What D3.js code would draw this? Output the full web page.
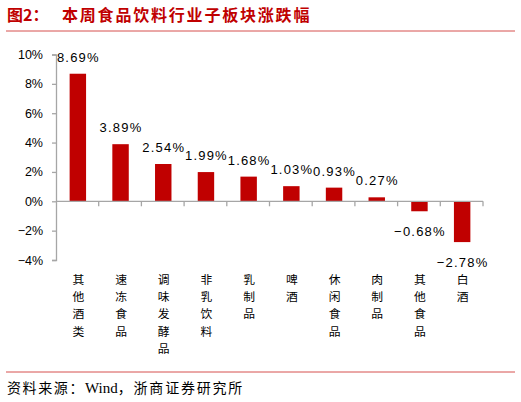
<!DOCTYPE html>
<html>
<head>
<meta charset="utf-8">
<script src="https://cdn.jsdelivr.net/npm/d3@7"></script>
<style>
  body { margin: 0; background: #fff; }
  svg { display: block; }
</style>
</head>
<body>
<svg id="chart" width="521" height="402"></svg>
<script>
const categories = ["其他酒类", "速冻食品", "调味发酵品", "非乳饮料", "乳制品", "啤酒", "休闲食品", "肉制品", "其他食品", "白酒"];
const changes = [8.69, 3.89, 2.54, 1.99, 1.68, 1.03, 0.93, 0.27, -0.68, -2.78];
const yTicks = [-4, -2, 0, 2, 4, 6, 8, 10];

const red = "#c00000";
const axisGrey = "#a6a6a6";
const cjk = "'Noto Sans CJK SC', sans-serif";
const latin = "'Liberation Sans', Arial, sans-serif";

const svg = d3.select("#chart");

// title + rule
svg.append("text")
  .attr("x", 7).attr("y", 21)
  .attr("fill", red).attr("font-family", cjk).attr("font-weight", "bold")
  .attr("font-size", 16)
  .text("图2：");
svg.append("text")
  .attr("x", 62).attr("y", 21)
  .attr("fill", red).attr("font-family", cjk).attr("font-weight", "bold")
  .attr("font-size", 16).attr("letter-spacing", 1.8)
  .text("本周食品饮料行业子板块涨跌幅");
svg.append("line")
  .attr("x1", 6).attr("x2", 515).attr("y1", 31).attr("y2", 31)
  .attr("stroke", "#d6504e").attr("stroke-width", 1);

const x = d3.scaleBand().domain(categories).range([56, 483]).padding(0);
const y = d3.scaleLinear().domain([-4, 10]).range([260, 54.5]);
const barW = x.bandwidth() * 0.385;

const data = categories.map((c, i) => ({ cat: c, v: changes[i] }));

// bars
svg.append("g")
  .selectAll("rect")
  .data(data)
  .join("rect")
  .attr("x", (d) => x(d.cat) + x.bandwidth() / 2 - barW / 2 + 0.5)
  .attr("width", barW)
  .attr("y", (d) => y(Math.max(0, d.v)))
  .attr("height", (d) => Math.abs(y(d.v) - y(0)))
  .attr("fill", red);

// y axis
const yAxis = svg.append("g")
  .attr("transform", `translate(${x.range()[0]},0)`)
  .call(d3.axisLeft(y).tickValues(yTicks).tickSize(4).tickPadding(9)
    .tickFormat((d) => (d < 0 ? "−" : "") + Math.abs(d) + "%"));
yAxis.select(".domain").attr("stroke", axisGrey).attr("stroke-width", 1.3);
yAxis.selectAll(".tick line").attr("stroke", axisGrey).attr("stroke-width", 1.3);
yAxis.selectAll(".tick text")
  .attr("fill", "#000").attr("font-family", latin).attr("font-size", 12.5);

// zero line with category ticks
const xAxis = svg.append("g").attr("transform", `translate(0,${y(0)})`);
xAxis.append("line")
  .attr("x1", x.range()[0]).attr("x2", x.range()[1])
  .attr("stroke", axisGrey).attr("stroke-width", 1.3);
xAxis.selectAll("line.tk")
  .data(categories.slice(1).map((c) => x(c)).concat([x.range()[1]]))
  .join("line")
  .attr("class", "tk")
  .attr("x1", (d) => d).attr("x2", (d) => d)
  .attr("y1", 0).attr("y2", 5)
  .attr("stroke", axisGrey).attr("stroke-width", 1.3);

// value labels
svg.append("g")
  .selectAll("text")
  .data(data)
  .join("text")
  .attr("x", (d) => x(d.cat) + x.bandwidth() / 2 + 1)
  .attr("y", (d) => (d.v >= 0 ? y(d.v) - 12 : y(d.v) + 25))
  .attr("text-anchor", "middle")
  .attr("font-family", latin).attr("font-size", 13).attr("letter-spacing", 1.2)
  .attr("fill", "#000")
  .text((d) => (d.v < 0 ? "−" : "") + Math.abs(d.v).toFixed(2) + "%");

// vertical category labels, one character per line
const catG = svg.append("g")
  .selectAll("text")
  .data(categories)
  .join("text")
  .attr("font-family", cjk).attr("font-size", 11.8).attr("fill", "#000")
  .attr("text-anchor", "middle");
catG.selectAll("tspan")
  .data((c) => Array.from(c).map((ch, i) => ({ ch, i, c })))
  .join("tspan")
  .attr("x", (d) => x(d.c) + x.bandwidth() / 2 + 1)
  .attr("y", (d) => 284 + d.i * 17.2)
  .text((d) => d.ch);

// source rule + footer
svg.append("line")
  .attr("x1", 6).attr("x2", 515).attr("y1", 372).attr("y2", 372)
  .attr("stroke", "#d6504e").attr("stroke-width", 1);
const foot = svg.append("text")
  .attr("x", 7).attr("y", 393)
  .attr("font-family", cjk).attr("font-size", 14).attr("fill", "#000");
foot.append("tspan").attr("letter-spacing", 1.6).text("资料来源：");
foot.append("tspan").attr("font-family", "'Liberation Serif', serif").attr("font-size", 15).text("Wind");
foot.append("tspan").attr("letter-spacing", 1.8).text("，浙商证券研究所");
</script>
</body>
</html>
